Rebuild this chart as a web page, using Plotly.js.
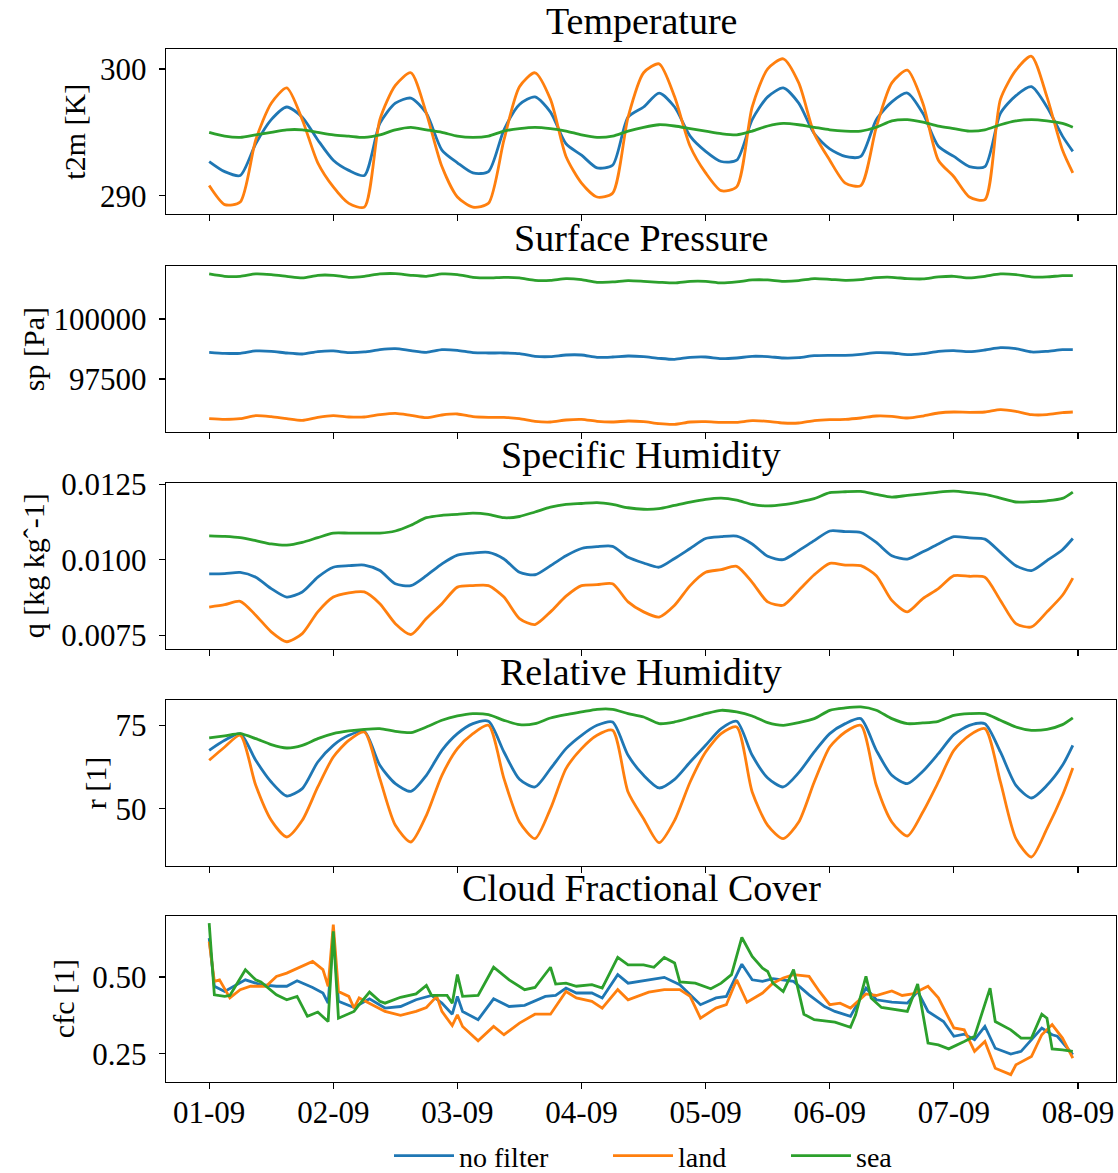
<!DOCTYPE html>
<html>
<head>
<meta charset="utf-8">
<script src="https://cdn.plot.ly/plotly-3.0.1.min.js"></script>
<style>html,body{margin:0;padding:0;background:#fff}#chart{width:1118px;height:1173px}</style>
</head>
<body>
<div id="chart"></div>
<script>
// hours since 2021-09-01 00:00
const hours = [0,3,6,9,12,15,18,21,24,27,30,33,36,39,42,45,48,51,54,57,60,63,66,69,72,75,78,81,84,87,90,93,96,99,102,105,108,111,114,117,120,123,126,129,132,135,138,141,144,147,150,153,156,159,162,165,167];

const seriesNames = ['no filter','land','sea'];
const seriesColors = ['#1f77b4','#ff7f0e','#2ca02c'];

// Temperature t2m [K]
const t2mNoFilter = [292.7,291.9,291.6,294.1,296.0,297.0,296.2,294.4,292.8,292.0,291.6,295.7,297.3,297.7,296.5,293.6,292.6,291.8,291.9,295.2,297.2,297.8,296.6,294.1,293.2,292.2,292.4,296.2,297.0,298.1,297.0,294.7,293.5,292.7,292.8,296.0,297.8,298.5,297.3,294.9,293.7,293.1,293.1,296.0,297.4,298.1,296.5,293.9,293.1,292.3,292.3,296.5,297.9,298.6,297.0,294.7,293.5];
const t2mLand = [290.8,289.3,289.5,294.4,297.3,298.5,296.0,292.6,290.7,289.4,289.1,296.0,298.7,299.7,296.5,292.3,289.9,289.1,289.4,294.4,298.6,299.7,297.6,293.1,291.0,289.9,290.2,296.2,299.7,300.4,297.8,293.9,291.8,290.4,290.7,297.0,300.0,300.8,298.9,294.9,292.8,291.0,290.8,295.4,298.9,299.9,297.3,292.8,291.5,289.9,289.7,297.6,299.9,301.0,297.8,293.6,291.8];
const t2mSea = [295.0,294.7,294.6,294.8,295.0,295.2,295.2,295.0,294.8,294.7,294.6,294.8,295.2,295.4,295.2,295.0,294.7,294.6,294.7,295.1,295.3,295.4,295.3,295.1,294.8,294.6,294.7,295.1,295.4,295.6,295.5,295.3,295.1,294.9,294.8,295.1,295.5,295.7,295.6,295.4,295.2,295.1,295.1,295.4,295.9,296.0,295.8,295.5,295.3,295.1,295.2,295.6,295.9,296.0,295.9,295.7,295.4];

// Surface pressure sp [Pa]
const spNoFilter = [98611,98569,98569,98667,98653,98583,98542,98639,98667,98597,98625,98722,98764,98681,98611,98722,98694,98597,98583,98583,98556,98444,98431,98500,98500,98403,98417,98458,98431,98361,98319,98403,98417,98347,98375,98444,98431,98375,98389,98472,98486,98486,98528,98597,98583,98514,98556,98653,98681,98639,98708,98806,98764,98625,98653,98722,98722];
const spLand = [95847,95819,95847,95972,95931,95847,95778,95903,95972,95917,95917,96014,96069,95986,95889,96000,96042,95931,95903,95903,95847,95736,95708,95792,95819,95736,95708,95750,95722,95639,95611,95708,95722,95694,95694,95764,95736,95667,95667,95764,95806,95819,95875,95958,95944,95875,95958,96083,96125,96111,96125,96222,96153,96014,96014,96097,96125];
const spSea = [101875,101778,101778,101875,101847,101778,101708,101819,101819,101736,101778,101875,101889,101819,101778,101875,101847,101736,101708,101736,101708,101611,101611,101681,101639,101528,101542,101597,101569,101528,101500,101569,101569,101500,101542,101625,101625,101569,101597,101681,101653,101611,101639,101722,101736,101681,101667,101750,101778,101708,101778,101875,101847,101750,101750,101806,101806];

// Specific humidity q
const qNoFilter = [0.00953,0.00954,0.00958,0.00942,0.00904,0.00876,0.00893,0.00942,0.00975,0.00980,0.00982,0.00964,0.00920,0.00914,0.00947,0.00986,0.01015,0.01022,0.01024,0.01002,0.00958,0.00950,0.00980,0.01013,0.01037,0.01043,0.01044,0.01008,0.00989,0.00975,0.01004,0.01037,0.01070,0.01076,0.01078,0.01052,0.01011,0.01000,0.01030,0.01063,0.01095,0.01093,0.01090,0.01057,0.01013,0.01002,0.01026,0.01052,0.01076,0.01072,0.01068,0.01024,0.00980,0.00964,0.00997,0.01033,0.01070];
const qLand = [0.00843,0.00851,0.00862,0.00816,0.00761,0.00728,0.00755,0.00827,0.00876,0.00890,0.00893,0.00854,0.00788,0.00752,0.00805,0.00854,0.00909,0.00914,0.00914,0.00876,0.00805,0.00785,0.00827,0.00879,0.00914,0.00917,0.00920,0.00860,0.00827,0.00810,0.00849,0.00914,0.00958,0.00967,0.00978,0.00925,0.00860,0.00849,0.00898,0.00950,0.00988,0.00982,0.00980,0.00947,0.00865,0.00827,0.00871,0.00904,0.00947,0.00945,0.00942,0.00865,0.00788,0.00777,0.00827,0.00882,0.00939];
const qSea = [0.01079,0.01077,0.01073,0.01063,0.01052,0.01048,0.01057,0.01073,0.01088,0.01088,0.01088,0.01088,0.01095,0.01114,0.01139,0.01147,0.01150,0.01154,0.01150,0.01139,0.01143,0.01158,0.01174,0.01183,0.01186,0.01189,0.01183,0.01172,0.01167,0.01169,0.01180,0.01191,0.01200,0.01204,0.01197,0.01183,0.01178,0.01182,0.01191,0.01202,0.01222,0.01225,0.01226,0.01216,0.01207,0.01213,0.01218,0.01224,0.01227,0.01222,0.01216,0.01204,0.01191,0.01192,0.01195,0.01203,0.01224];

// Relative humidity r
const rNoFilter = [67.5,70.5,72.5,64.5,58.0,53.8,56.0,64.0,69.0,72.0,73.2,63.0,57.5,55.2,60.0,67.5,72.5,75.5,76.2,67.0,58.8,56.5,62.0,68.0,72.0,75.0,76.0,66.0,60.0,56.2,58.8,64.0,69.0,74.0,76.2,66.0,59.2,56.5,60.8,67.0,72.5,75.5,77.0,67.5,60.0,57.5,61.2,66.5,72.2,75.0,75.5,67.0,57.0,53.2,57.0,63.0,69.0];
const rLand = [64.5,68.5,72.0,57.0,46.5,41.5,46.5,56.5,65.5,70.5,73.0,59.0,45.0,40.0,48.0,60.0,68.0,72.5,75.0,59.0,46.0,41.0,50.0,62.0,68.0,72.0,73.5,55.0,47.0,39.8,46.5,58.0,67.0,72.5,74.5,55.0,45.0,41.0,46.0,58.0,68.5,73.0,75.0,57.0,46.0,41.8,49.0,58.0,67.5,72.0,74.0,58.0,41.0,35.5,44.0,54.0,62.2];
const rSea = [71.2,71.8,72.5,71.0,69.2,68.2,69.0,71.0,72.5,73.3,73.8,74.0,73.2,72.8,74.5,76.5,77.8,78.5,78.2,76.5,75.2,75.5,77.2,78.2,79.0,79.8,79.8,78.5,77.5,75.5,76.0,77.2,78.5,79.5,79.0,77.8,75.8,75.0,75.8,77.0,79.5,80.2,80.5,79.5,77.0,75.5,75.7,76.2,78.0,78.5,78.5,76.5,74.5,73.5,73.8,75.2,77.2];

// Cloud fractional cover cfc (hourly output, sampled where it changes)
const cfcHoursNoFilter = [0,1,3,7,10,13,15,17,20,22,23,24,25,28,31,34,37,40,43,45,47,48,49,52,55,58,61,65,67,69,71,74,76,79,81,85,88,91,95,98,100,103,105,107,109,113,116,119,121,124,127,129,132,135,137,139,142,144,146,148,150,152,155,157,161,163,164,167];
const cfcNoFilter = [0.627,0.470,0.453,0.491,0.475,0.470,0.470,0.488,0.466,0.448,0.415,0.643,0.421,0.401,0.429,0.399,0.404,0.426,0.440,0.415,0.379,0.437,0.388,0.361,0.429,0.404,0.408,0.437,0.440,0.464,0.448,0.448,0.432,0.508,0.480,0.491,0.499,0.475,0.410,0.432,0.437,0.542,0.491,0.486,0.495,0.486,0.442,0.404,0.388,0.372,0.464,0.426,0.418,0.415,0.453,0.388,0.355,0.307,0.314,0.296,0.339,0.268,0.249,0.258,0.334,0.312,0.307,0.247];
const cfcHoursLand = [0,1,2,4,6,8,11,13,15,18,20,22,23,24,25,27,28,29,32,34,37,40,42,44,45,47,48,49,52,55,57,60,63,66,69,71,74,76,79,81,85,88,91,93,95,98,100,102,104,107,109,111,113,116,118,120,122,124,127,129,132,134,136,139,141,144,146,148,150,152,155,156,159,161,163,165,167];
const cfcLand = [0.616,0.486,0.491,0.432,0.459,0.470,0.470,0.502,0.513,0.535,0.551,0.524,0.470,0.671,0.453,0.437,0.399,0.432,0.404,0.388,0.375,0.388,0.401,0.437,0.388,0.342,0.377,0.339,0.292,0.339,0.312,0.350,0.379,0.379,0.453,0.432,0.421,0.399,0.459,0.426,0.451,0.459,0.459,0.437,0.366,0.399,0.410,0.491,0.418,0.448,0.480,0.497,0.508,0.502,0.453,0.410,0.415,0.399,0.445,0.440,0.455,0.440,0.445,0.470,0.432,0.334,0.328,0.258,0.290,0.203,0.182,0.214,0.241,0.312,0.345,0.301,0.236];
const cfcHoursSea = [0,1,3,4,7,9,10,13,15,17,19,21,23,24,25,28,29,31,33,34,37,40,42,43,46,47,48,49,52,55,58,61,63,66,67,69,71,74,76,79,81,84,86,88,90,91,94,97,99,101,103,105,107,108,109,111,113,115,117,121,124,125,127,128,130,133,135,137,139,141,143,146,148,151,152,155,157,159,161,162,163,165,167];
const cfcSea = [0.676,0.442,0.437,0.440,0.524,0.491,0.484,0.442,0.426,0.437,0.372,0.386,0.355,0.649,0.366,0.388,0.410,0.451,0.421,0.415,0.434,0.445,0.473,0.440,0.440,0.415,0.508,0.437,0.440,0.532,0.491,0.459,0.466,0.532,0.477,0.480,0.470,0.475,0.464,0.564,0.540,0.540,0.532,0.564,0.546,0.484,0.480,0.462,0.480,0.508,0.629,0.567,0.529,0.518,0.480,0.453,0.524,0.379,0.361,0.353,0.336,0.377,0.502,0.432,0.401,0.393,0.388,0.477,0.285,0.279,0.266,0.290,0.307,0.464,0.355,0.328,0.301,0.301,0.379,0.366,0.266,0.263,0.258];

const dayTicks = [0,24,48,72,96,120,144,168];

const panelTitles = ['Temperature','Surface Pressure','Specific Humidity','Relative Humidity','Cloud Fractional Cover'];
const yLabels = ['t2m [K]','sp [Pa]','q [kg kgˆ-1]','r [1]','cfc [1]'];
const yTickVals = [[290,300],[97500,100000],[0.0075,0.0100,0.0125],[50,75],[0.25,0.5]];
const yTickText = [['290','300'],['97500','100000'],['0.0075','0.0100','0.0125'],['50','75'],['0.25','0.50']];
const yRanges = [[288.56,301.55],[95292,102194],[0.00704,0.01253],[32.8,82.5],[0.158,0.698]];

// ---------------- build figure ----------------
const base = Date.UTC(2021,8,1,0,0,0);
const toT = h => base + h*3600000;
const W = 1118, H = 1173;
const px = v => v / W;
const py = v => 1 - v / H;

const panelData = [
  [[hours,t2mNoFilter],[hours,t2mLand],[hours,t2mSea]],
  [[hours,spNoFilter],[hours,spLand],[hours,spSea]],
  [[hours,qNoFilter],[hours,qLand],[hours,qSea]],
  [[hours,rNoFilter],[hours,rLand],[hours,rSea]],
  [[cfcHoursNoFilter,cfcNoFilter],[cfcHoursLand,cfcLand],[cfcHoursSea,cfcSea]]
];

const frames = [[49.3,214],[266.3,432],[483.3,649],[700.3,866],[916.3,1082]];
const ylabX = [75,33,33,95,63];
const legendIds = ['legend','legend2','legend3'];
const legendX = [389,608,786];

const font = 'Liberation Serif, Times New Roman, serif';
const traces = [];
panelData.forEach((pd, p) => {
  pd.forEach((s, i) => {
    traces.push({
      type: 'scatter', mode: 'lines',
      x: s[0].map(toT), y: s[1],
      name: seriesNames[i],
      line: {color: seriesColors[i], width: 2.8, shape: p < 4 ? 'spline' : 'linear', smoothing: 0.7},
      xaxis: 'x' + (p+1), yaxis: 'y' + (p+1),
      showlegend: p === 0,
      legend: legendIds[i]
    });
  });
});

const layout = {
  width: W, height: H,
  margin: {l:0, r:0, t:0, b:0, autoexpand: false},
  paper_bgcolor: '#fff', plot_bgcolor: '#fff',
  font: {family: font, color: '#000', size: 31},
  showlegend: true,
  annotations: []
};
legendIds.forEach((id, i) => {
  layout[id] = {orientation: 'h', x: px(legendX[i]), xanchor: 'left', y: py(1156), yanchor: 'middle',
    itemwidth: 60, font: {size: 28, family: font}, bgcolor: 'rgba(0,0,0,0)'};
});

const xr = [toT(-8.35), toT(175.35)];
for (let p = 0; p < 5; p++) {
  const k = p + 1;
  const [top, bot] = frames[p];
  layout['xaxis' + k] = {
    type: 'date', domain: [px(166), px(1116)], range: xr, anchor: 'y' + k,
    tickvals: dayTicks.map(toT), tickformat: '%d-%m',
    showticklabels: p === 4, ticks: 'outside', ticklen: 6, tickwidth: 1.2, tickcolor: '#000',
    ticklabelstandoff: -4,
    showline: true, mirror: true, linecolor: '#000', linewidth: 1.4,
    showgrid: false, zeroline: false, fixedrange: true,
    tickfont: {size: 31, family: font}
  };
  layout['yaxis' + k] = {
    domain: [py(bot), py(top)], range: yRanges[p], anchor: 'x' + k,
    tickmode: 'array', tickvals: yTickVals[p], ticktext: yTickText[p],
    ticks: 'outside', ticklen: 6, tickwidth: 1.2, tickcolor: '#000', ticklabelstandoff: 6,
    showline: true, mirror: true, linecolor: '#000', linewidth: 1.4,
    showgrid: false, zeroline: false, fixedrange: true,
    tickfont: {size: 31, family: font}
  };
  layout.annotations.push({
    text: panelTitles[p], xref: 'paper', yref: 'paper',
    x: px(641), y: py(top - 28), xanchor: 'center', yanchor: 'middle',
    showarrow: false, font: {size: 38, family: font}
  });
  layout.annotations.push({
    text: yLabels[p], xref: 'paper', yref: 'paper', textangle: -90,
    x: px(ylabX[p]), y: py((top + bot) / 2), xanchor: 'center', yanchor: 'middle',
    showarrow: false, font: {size: 30, family: font}
  });
}

Plotly.newPlot('chart', traces, layout, {displayModeBar: false, staticPlot: true});
</script>
</body>
</html>
